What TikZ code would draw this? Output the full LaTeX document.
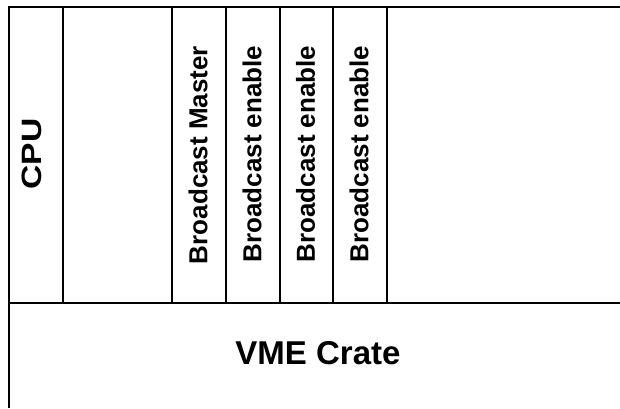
\documentclass[tikz,border=0pt]{standalone}
\usepackage{fontspec}
\setmainfont{Liberation Sans}
\begin{document}
\begin{tikzpicture}[x=1pt,y=-1pt,
  frame/.style={draw=black,line width=1.1pt},
  slot/.style={font=\bfseries\fontsize{26}{28}\selectfont,rotate=90,inner sep=0pt},
  cpulabel/.style={font=\bfseries\fontsize{28}{30}\selectfont,rotate=90,inner sep=0pt,xscale=1.2},
  crate/.style={font=\bfseries\fontsize{33}{36}\selectfont,inner sep=0pt}]
\useasboundingbox (0,0) rectangle (620,408);
\fill[white] (0,0) rectangle (620,408);
% outer frame
\draw[frame] (620,7) -- (9,7) -- (9,408);
\draw[frame,line width=1.5pt] (9,303) -- (620,303);
% slot separators
\foreach \x in {63,172,226,280,333,387}
  \draw[frame] (\x,7) -- (\x,303);
% labels
\node[cpulabel] (cpu) at (32,154) {CPU};
\node[slot] (bm) at (198,155) {Broadcast Master};
\node[slot] (be1) at (252,154) {Broadcast enable};
\node[slot] (be2) at (305.5,154) {Broadcast enable};
\node[slot] (be3) at (359,154) {Broadcast enable};
\node[crate] (vme) at (318,353) {VME Crate};
\end{tikzpicture}
\end{document}
